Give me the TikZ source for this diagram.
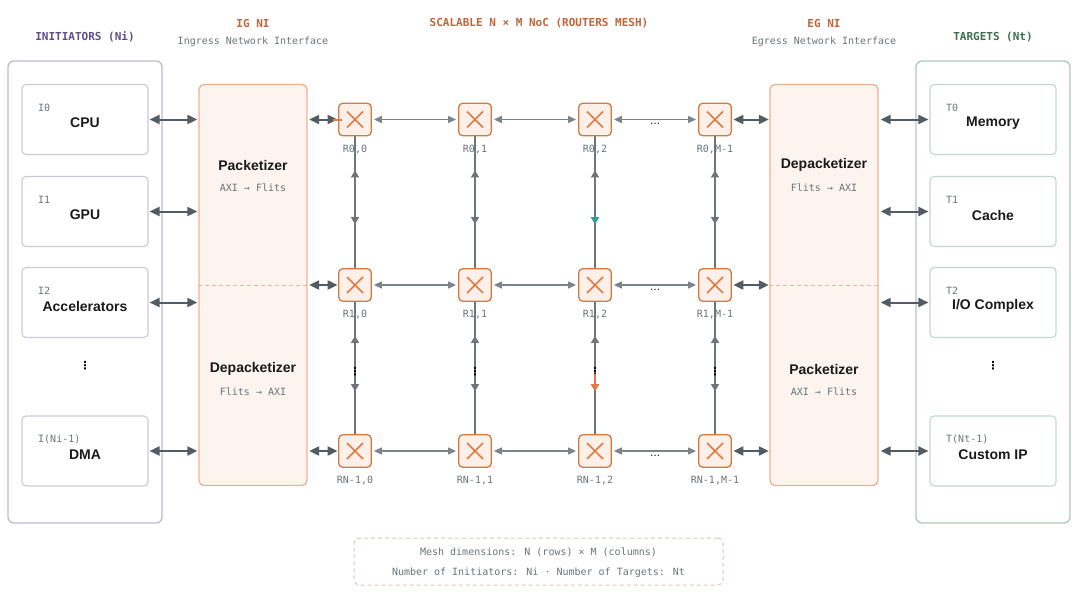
\documentclass[tikz,border=0pt]{standalone}
\usepackage{fontspec}
\setmainfont{Liberation Sans}
\newfontfamily\monof{DejaVu Sans Mono}
\newfontfamily\symf{DejaVu Sans}
\usetikzlibrary{arrows.meta,calc}
\definecolor{purp}{HTML}{5B4E8C}
\definecolor{grn}{HTML}{3E6E4F}
\definecolor{orng}{HTML}{C0643A}
\definecolor{inibd}{HTML}{BDB9D3}
\definecolor{iniin}{HTML}{CBC9DA}
\definecolor{tgtbd}{HTML}{ADC8BA}
\definecolor{tgtin}{HTML}{C4D7CD}
\definecolor{nifill}{HTML}{FDF4EF}
\definecolor{nibd}{HTML}{EDB193}
\definecolor{rfill}{HTML}{FDF0E8}
\definecolor{rbd}{HTML}{D6793F}
\definecolor{xcol}{HTML}{E07A45}
\definecolor{darkar}{HTML}{545C63}
\definecolor{lightar}{HTML}{7B848B}
\definecolor{vcol}{HTML}{6C757B}
\definecolor{txtg}{HTML}{6B7378}
\definecolor{maintxt}{HTML}{1A1A1A}
\definecolor{notebd}{HTML}{DCC4BD}
\definecolor{tealc}{HTML}{3A9A9A}
\definecolor{orstub}{HTML}{E07A45}
\begin{document}
\begin{tikzpicture}[x=1pt,y=-1pt,
  outerI/.style={draw=inibd, rounded corners=6, line width=1.3, minimum width=154, minimum height=462, inner sep=0},
  outerT/.style={draw=tgtbd, rounded corners=6, line width=1.3, minimum width=154, minimum height=462, inner sep=0},
  inI/.style={draw=iniin, fill=white, rounded corners=4, line width=1.1, minimum width=126, minimum height=70, inner sep=0},
  inT/.style={draw=tgtin, fill=white, rounded corners=4, line width=1.1, minimum width=126, minimum height=70, inner sep=0},
  nibox/.style={draw=nibd, fill=nifill, rounded corners=5, line width=1.3, minimum width=108, minimum height=401, inner sep=0},
  router/.style={draw=rbd, fill=rfill, rounded corners=4, line width=1.3, minimum size=32.5, inner sep=0,
    path picture={\draw[xcol, line width=1.6] ([shift={(-8pt,-8pt)}]path picture bounding box.center) -- ([shift={(8pt,8pt)}]path picture bounding box.center);
                  \draw[xcol, line width=1.6] ([shift={(-8pt,8pt)}]path picture bounding box.center) -- ([shift={(8pt,-8pt)}]path picture bounding box.center);}},
  lbl/.style={font=\monof\fontsize{10}{12}\selectfont, text=txtg, inner sep=0},
  rlbl/.style={font=\monof\fontsize{10}{12}\selectfont, text=txtg, inner sep=0},
  mainT/.style={font=\bfseries\fontsize{14}{16}\selectfont, text=maintxt, inner sep=0},
  subT/.style={font=\monof\fontsize{10}{12}\selectfont, text=txtg, inner sep=0},
  ttl/.style={font=\monof\bfseries\fontsize{11}{13}\selectfont, inner sep=0},
  darr/.style={{Triangle[length=10pt,width=9pt]}-{Triangle[length=10pt,width=9pt]}, draw=darkar, line width=2},
  larr/.style={{Triangle[length=8pt,width=7pt]}-{Triangle[length=8pt,width=7pt]}, draw=lightar, line width=1.5, shorten <=2pt, shorten >=2pt},
  vline/.style={draw=vcol, line width=1.5},
  varr/.style={{Triangle[length=7pt,width=8pt]}-{Triangle[length=7pt,width=8pt]}, draw=vcol, line width=1.5},
  nidash/.style={draw=nibd, dashed, dash pattern=on 4pt off 3pt, line width=1},
  dots/.style={font=\symf\bfseries\fontsize{11}{12}\selectfont, text=black, inner sep=0}
]
\useasboundingbox (0,0) rectangle (1080,597);

% Titles
\node[ttl, text=purp] (tini) at (85,37) {INITIATORS (Ni)};
\node[ttl, text=orng] (tig) at (253,23) {IG NI};
\node[subT] (tigs) at (253,42) {Ingress Network Interface};
\node[ttl, text=orng] (tnoc) at (539,23) {SCALABLE N × M NoC (ROUTERS MESH)};
\node[ttl, text=orng] (teg) at (824,23) {EG NI};
\node[subT] (tegs) at (824,42) {Egress Network Interface};
\node[ttl, text=grn] (ttgt) at (993,37) {TARGETS (Nt)};

% Outer containers
\node[outerI] (inis) at (85,292) {};
\node[outerT] (tgts) at (993,292) {};

% Initiators
\foreach \n/\y/\l/\t in {0/119.5/I0/CPU, 1/211.5/I1/GPU, 2/302.5/I2/Accelerators, 3/451/I(Ni-1)/DMA} {
  \node[inI] (i\n) at (85,\y) {};
  \node[lbl, anchor=west] (il\n) at (38,\y-11.5) {\l};
  \node[mainT] (it\n) at (85,\y+3.5) {\t};
}
\node[dots] (idots) at (85,366) {⋮};

% Targets
\foreach \n/\y/\l/\t in {0/119.5/T0/Memory, 1/211.5/T1/Cache, 2/302.5/T2/{I/O Complex}, 3/451/T(Nt-1)/Custom IP} {
  \node[inT] (t\n) at (993,\y) {};
  \node[lbl, anchor=west] (tl\n) at (946,\y-11.5) {\l};
  \node[mainT] (tt\n) at (993,\y+3.5) {\t};
}
\node[dots] (tdots) at (993,366) {⋮};

% NI boxes
\node[nibox] (ig) at (253,285) {};
\node[nibox] (eg) at (824,285) {};
\draw[nidash] (ig.west) -- (ig.east);
\draw[nidash] (eg.west) -- (eg.east);
\node[mainT] (igp) at (253,165) {Packetizer};
\node[subT] (igps) at (253,188) {AXI → Flits};
\node[mainT] (igd) at (253,369) {Depacketizer};
\node[subT] (igds) at (253,392) {Flits → AXI};
\node[mainT] (egd) at (824,165) {Depacketizer};
\node[subT] (egds) at (824,188) {Flits → AXI};
\node[mainT] (egp) at (824,369) {Packetizer};
\node[subT] (egps) at (824,392) {AXI → Flits};

% Initiator / target arrows
\foreach \n in {0,1,2,3} {
  \draw[darr, shorten <=1pt, shorten >=1pt] (i\n.east) -- (i\n.east -| ig.west);
  \draw[darr, shorten <=2pt, shorten >=1pt] (t\n.west -| eg.east) -- (t\n.west);
}

% Vertical links (drawn first, under routers)
\foreach \c/\x in {0/355,1/475,2/595,3/715} {
  \coordinate (ca\c) at (\x,119.5);
  \coordinate (cb\c) at (\x,285);
  \coordinate (cc\c) at (\x,451);
  \draw[vline] (ca\c) -- (cb\c);
  \draw[vline] (cb\c) -- (cc\c);
}

% Routers
\foreach \c/\x/\cn in {0/355/0,1/475/1,2/595/2,3/715/M-1} {
  \foreach \r/\y/\rn in {0/119.5/0,1/285/1,2/451/N-1} {
    \node[router] (r\r\c) at (\x,\y) {};
    \node[rlbl] (rl\r\c) at (\x,\y+29.5) {R\rn,\cn};
  }
}

% Vertical arrowheads and dots
\foreach \c in {0,1,2,3} {
  \draw[varr] ([yshift=-34pt]r0\c.south) -- ([yshift=44pt]r1\c.north);
  \draw[varr] ([yshift=-34pt]r1\c.south) -- ([yshift=43pt]r2\c.north);
  \node[dots, font=\symf\bfseries\fontsize{11}{12}\selectfont] (vd\c) at ($(r1\c.south)!0.53!(r2\c.north)$) {⋮};
}
% coloured highlights on column 2
\draw[-{Triangle[length=7pt,width=8pt]}, draw=tealc, line width=1.5] ([yshift=52pt]r12.north) -- ([yshift=44pt]r12.north);
\draw[-{Triangle[length=7pt,width=8pt]}, draw=orstub, line width=2] ([yshift=60pt]r22.north) -- ([yshift=43pt]r22.north);

% Horizontal links
\foreach \r in {0,1,2} {
  \draw[darr, shorten <=1.5pt, shorten >=0.5pt] (r\r0.west -| ig.east) -- (r\r0.west);
  \draw[larr] (r\r0.east) -- (r\r1.west);
  \draw[larr] (r\r1.east) -- (r\r2.west);
  \draw[larr] (r\r2.east) -- (r\r3.west);
  \draw[darr, shorten <=1.5pt, shorten >=0.5pt] (r\r3.east) -- (r\r3.east -| eg.west);
  \node[dots, font=\symf\fontsize{10}{12}\selectfont] (hd\r) at ($(r\r2.east)!0.5!(r\r3.west)+(0,4.5)$) {…};
}
\draw[draw=orstub, line width=2] ([xshift=-5pt]r00.west) -- ([xshift=4pt]r00.west);

% Note box
\node[draw=notebd, dashed, dash pattern=on 4pt off 3pt, rounded corners=5, line width=1, minimum width=369, minimum height=47, inner sep=0] (note) at (538.5,561.5) {};
\node[font=\monof\fontsize{10}{20}\selectfont, text=txtg, align=center, inner sep=0] (notet) at (538.5,563) {Mesh dimensions: N (rows) × M (columns)\\Number of Initiators: Ni · Number of Targets: Nt};
\end{tikzpicture}
\end{document}
